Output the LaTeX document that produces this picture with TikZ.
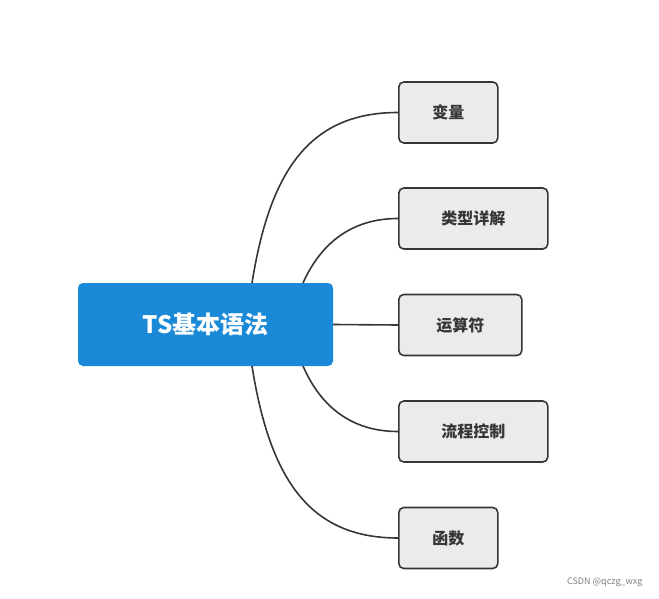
\documentclass[tikz,border=0pt]{standalone}
\usepackage{fontspec}
\setmainfont{Noto Sans CJK SC}
\usetikzlibrary{positioning}
\definecolor{rootblue}{HTML}{1A8AD8}
\definecolor{leafgray}{HTML}{EBEBEB}
\definecolor{linegray}{HTML}{363636}
\tikzset{
  root/.style={fill=rootblue,rounded corners=5pt,text=white,font=\bfseries\fontsize{24}{28}\selectfont,
    minimum width=255pt,minimum height=83pt,inner sep=0pt},
  leaf/.style={fill=leafgray,draw=linegray,line width=1.6pt,rounded corners=5pt,text=linegray,
    font=\bfseries\fontsize{16}{19}\selectfont,minimum height=61pt,inner sep=0pt,anchor=west},
  branch/.style={draw=linegray,line width=1.6pt}
}
\begin{document}
\begin{tikzpicture}[x=1pt,y=-1pt]
\useasboundingbox (0,0) rectangle (659,599);
% root
\node[root] (ts) at (205.5,324.5) {TS基本语法};
% leaves
\node[leaf,minimum width=99pt] (var) at (398,112.5) {变量};
\node[leaf,minimum width=149pt] (type) at (398,218.5) {类型详解};
\node[leaf,minimum width=123pt] (op) at (398,325) {运算符};
\node[leaf,minimum width=149pt] (flow) at (398,431.5) {流程控制};
\node[leaf,minimum width=99pt] (func) at (398,538) {函数};
% connectors
\coordinate (t1) at (252,283);
\coordinate (t2) at (303,283);
\coordinate (b2) at (303,366);
\coordinate (b1) at (252,366);
\draw[branch] (t1) .. controls (270,170) and (310,112.5) .. (var.west);
\draw[branch] (t2) .. controls (320,245) and (350,218.5) .. (type.west);
\draw[branch] (ts.east) -- (op.west);
\draw[branch] (b2) .. controls (320,405) and (350,431.5) .. (flow.west);
\draw[branch] (b1) .. controls (270,480) and (310,538) .. (func.west);
% watermark
\node[text=gray,font=\fontsize{9}{11}\selectfont,anchor=east] (wm) at (646,582) {CSDN @qczg\_wxg};
\end{tikzpicture}
\end{document}
